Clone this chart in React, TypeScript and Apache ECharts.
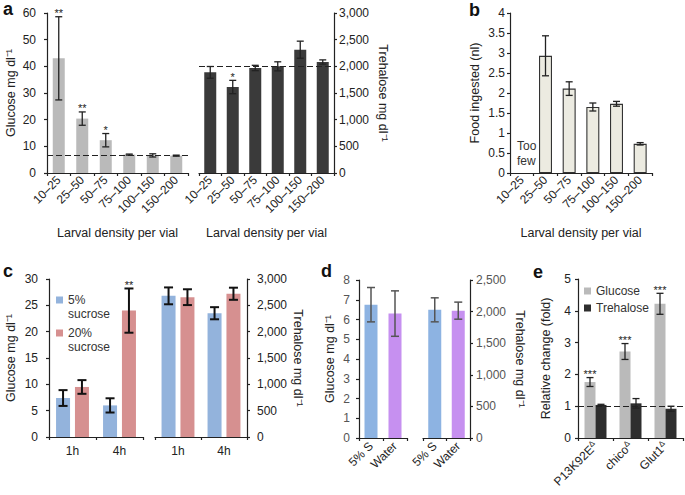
import React, { useEffect, useRef } from 'react';
import * as echarts from 'echarts';

// ---------- data ----------
const densityCats = ['10–25', '25–50', '50–75', '75–100', '100–150', '150–200'];
const glucoseA = [43.0, 20.4, 12.3, 6.9, 6.6, 6.5];
const glucoseAErr = [15.6, 2.5, 2.5, 0.2, 0.6, 0.2];
const glucoseASig = ['**', '**', '*', '', '', ''];
const glucoseARef = 6.6;
const trehaloseA = [1887, 1612, 1969, 2000, 2312, 2081];
const trehaloseAErr = [110, 125, 50, 85, 160, 40];
const trehaloseASig = ['', '*', '', '', '', ''];
const trehaloseARef = 2000;
const foodB: (number | null)[] = [null, 2.93, 2.11, 1.65, 1.73, 0.73];
const foodBErr: (number | null)[] = [null, 0.5, 0.17, 0.1, 0.06, 0.03];

const timeCats = ['1h', '4h'];
const sucroseNames = ['5% sucrose', '20% sucrose'];
const glucoseC5 = [7.4, 6.0];
const glucoseC5Err = [1.5, 1.35];
const glucoseC20 = [9.5, 24.0];
const glucoseC20Err = [1.3, 4.2];
const glucoseC20Sig = ['', '**'];
const trehaloseC5 = [2680, 2350];
const trehaloseC5Err = [160, 115];
const trehaloseC20 = [2655, 2720];
const trehaloseC20Err = [150, 115];

const dietCats = ['5% S', 'Water'];
const glucoseD = [6.75, 6.3];
const glucoseDErr = [0.87, 1.15];
const trehaloseD = [2028, 2015];
const trehaloseDErr = [190, 135];

const mutantCats = ['P13K92E', 'chico', 'Glut1'];
const sugarNames = ['Glucose', 'Trehalose'];
const glucoseE = [1.76, 2.72, 4.22];
const glucoseEErr = [0.14, 0.25, 0.33];
const glucoseESig = ['***', '***', '***'];
const trehaloseE = [1.04, 1.09, 0.92];
const trehaloseEErr = [0.02, 0.15, 0.08];
const eRef = 1;

// ---------- styles ----------
const FONT = '"Liberation Sans", Arial, Helvetica, sans-serif';
const INK = '#222';
const GREY_L = '#bababa';
const GREY_D = '#3a3a3a';
const BEIGE = '#ecebe1';
const BLUE_C = '#93b3dc';
const RED_C = '#d69090';
const BLUE_D = '#8db3e2';
const PURPLE_D = '#c690f0';
const dColors = [BLUE_D, PURPLE_D];

const thousands = (v: number) => v.toLocaleString('en-US');

function xCat(grid: number, data: string[], extra: any = {}) {
  const { axisLabel, ...rest } = extra;
  return {
    type: 'category',
    gridIndex: grid,
    data,
    axisLine: { lineStyle: { color: INK, width: 1.2 } },
    axisTick: { show: true, length: 3, lineStyle: { color: INK, width: 1.2 } },
    axisLabel: {
      interval: 0,
      rotate: 45,
      fontSize: 12,
      color: INK,
      fontFamily: FONT,
      margin: 5,
      ...(axisLabel || {}),
    },
    splitLine: { show: false },
    nameLocation: 'middle',
    nameTextStyle: { fontSize: 12.5, color: INK, fontFamily: FONT },
    ...rest,
  };
}

function yVal(grid: number, max: number, interval: number, extra: any = {}) {
  const right = extra.position === 'right';
  return {
    type: 'value',
    gridIndex: grid,
    min: 0,
    max,
    interval,
    axisLine: { show: true, lineStyle: { color: INK, width: 1.2 } },
    axisTick: { show: true, length: 3, lineStyle: { color: INK, width: 1.2 } },
    axisLabel: {
      fontSize: 12,
      color: extra.labelColor || INK,
      fontFamily: FONT,
      margin: extra.margin ?? 10,
      formatter: extra.thousands ? thousands : undefined,
    },
    splitLine: { show: false },
    position: extra.position || 'left',
    name: extra.name,
    nameLocation: 'middle',
    nameGap: extra.nameGap,
    nameRotate: right ? -90 : 90,
    nameTextStyle: { fontSize: 12.5, color: INK, fontFamily: FONT },
  };
}

function errSeries(
  xi: number,
  means: (number | null)[],
  errs: (number | null)[],
  offset: number,
  cap: number,
  color: string,
  lw: number,
  sigs?: string[]
) {
  const data: any[] = [];
  means.forEach((m, i) => {
    if (m != null) data.push([i, m, errs[i] ?? 0]);
  });
  return {
    type: 'custom',
    xAxisIndex: xi,
    yAxisIndex: xi,
    data,
    encode: { x: 0, y: 1 },
    clip: false,
    silent: true,
    z: 5,
    renderItem: (params: any, api: any) => {
      const idx = Math.round(api.value(0));
      const m = api.value(1);
      const e = api.value(2);
      const top = api.coord([idx, m + e]);
      const bot = api.coord([idx, m - e]);
      const cx = top[0] + offset;
      const st = { stroke: color, lineWidth: lw };
      const children: any[] = [
        { type: 'line', shape: { x1: cx, y1: top[1], x2: cx, y2: bot[1] }, style: st },
        { type: 'line', shape: { x1: cx - cap / 2, y1: top[1], x2: cx + cap / 2, y2: top[1] }, style: st },
        { type: 'line', shape: { x1: cx - cap / 2, y1: bot[1], x2: cx + cap / 2, y2: bot[1] }, style: st },
      ];
      const s = sigs ? sigs[idx] : '';
      if (s) {
        children.push({
          type: 'text',
          x: cx,
          y: top[1] + 2,
          style: {
            text: s,
            fill: INK,
            fontSize: 11,
            fontFamily: FONT,
            align: 'center',
            verticalAlign: 'bottom',
          },
        });
      }
      return { type: 'group', children };
    },
  };
}

function refLine(value: number) {
  return {
    silent: true,
    symbol: ['none', 'none'],
    label: { show: false },
    lineStyle: { type: [6, 3], color: INK, width: 1.2 },
    data: [{ yAxis: value }],
  };
}

export default function App() {
  const ref = useRef<HTMLDivElement>(null);

  useEffect(() => {
    if (!ref.current) return;
    const chart = echarts.init(ref.current, undefined, { renderer: 'svg' });

    const grids = [
      { left: 47, top: 13, width: 141, height: 160 }, // a left
      { left: 199, top: 13, width: 135, height: 160 }, // a right
      { left: 510, top: 13, width: 142, height: 160 }, // b
      { left: 49, top: 279, width: 94, height: 158 }, // c left
      { left: 155, top: 279, width: 92, height: 158 }, // c right
      { left: 359, top: 280, width: 48, height: 158 }, // d left
      { left: 423, top: 280, width: 47, height: 158 }, // d right
      { left: 578, top: 279, width: 105, height: 159 }, // e
    ];

    const larval = 'Larval density per vial';

    const xAxes = [
      xCat(0, densityCats, { name: larval, nameGap: 53 }),
      xCat(1, densityCats, { name: larval, nameGap: 53 }),
      xCat(2, densityCats, { name: larval, nameGap: 53 }),
      xCat(3, timeCats, { axisLabel: { rotate: 0, margin: 8 } }),
      xCat(4, timeCats, { axisLabel: { rotate: 0, margin: 8 } }),
      xCat(5, dietCats, { axisLabel: { margin: 6 } }),
      xCat(6, dietCats, { axisLabel: { margin: 6 } }),
      xCat(7, mutantCats, {
        axisLabel: {
          margin: 6,
          formatter: (v: string) => `{m|${v}}{s|Δ}`,
          rich: {
            m: { fontSize: 12, color: INK, fontFamily: FONT },
            s: { fontSize: 8, color: INK, fontFamily: FONT, padding: [0, 0, 6, 0] },
          },
        },
      }),
    ];

    const yAxes = [
      yVal(0, 60, 10, { name: 'Glucose mg dl⁻¹', nameGap: 30, margin: 11 }),
      yVal(1, 3000, 500, { name: 'Trehalose mg dl⁻¹', nameGap: 42, position: 'right', thousands: true, margin: 5 }),
      yVal(2, 4, 0.5, { name: 'Food ingested (nl)', nameGap: 29, margin: 5 }),
      yVal(3, 30, 5, { name: 'Glucose mg dl⁻¹', nameGap: 32, margin: 11 }),
      yVal(4, 3000, 500, { name: 'Trehalose mg dl⁻¹', nameGap: 44, position: 'right', thousands: true, margin: 10 }),
      yVal(5, 8, 1, { name: 'Glucose mg dl⁻¹', nameGap: 23, margin: 9, labelColor: '#555' }),
      yVal(6, 2500, 500, { name: 'Trehalose mg dl⁻¹', nameGap: 43, position: 'right', thousands: true, margin: 6, labelColor: '#555' }),
      yVal(7, 5, 1, { name: 'Relative change (fold)', nameGap: 26, margin: 7 }),
    ];

    const series: any[] = [
      // a
      {
        type: 'bar', name: 'Glucose a', xAxisIndex: 0, yAxisIndex: 0, data: glucoseA,
        barWidth: 12, itemStyle: { color: GREY_L }, markLine: refLine(glucoseARef),
      },
      errSeries(0, glucoseA, glucoseAErr, 0, 7, INK, 1.3, glucoseASig),
      {
        type: 'bar', name: 'Trehalose a', xAxisIndex: 1, yAxisIndex: 1, data: trehaloseA,
        barWidth: 12, itemStyle: { color: GREY_D }, markLine: refLine(trehaloseARef),
      },
      errSeries(1, trehaloseA, trehaloseAErr, 0, 7, INK, 1.3, trehaloseASig),
      // b
      {
        type: 'bar', name: 'Food', xAxisIndex: 2, yAxisIndex: 2,
        data: foodB.map((v) => (v == null ? '-' : v)),
        barWidth: 13, itemStyle: { color: BEIGE, borderColor: '#333', borderWidth: 1.1 },
      },
      errSeries(2, foodB, foodBErr, 0, 7, INK, 1.3),
      // c
      {
        type: 'bar', name: sucroseNames[0], xAxisIndex: 3, yAxisIndex: 3, data: glucoseC5,
        barWidth: 14, barGap: '35%', itemStyle: { color: BLUE_C },
      },
      {
        type: 'bar', name: sucroseNames[1], xAxisIndex: 3, yAxisIndex: 3, data: glucoseC20,
        barWidth: 14, barGap: '35%', itemStyle: { color: RED_C },
      },
      errSeries(3, glucoseC5, glucoseC5Err, -9.45, 9, '#111', 2),
      errSeries(3, glucoseC20, glucoseC20Err, 9.45, 9, '#111', 2, glucoseC20Sig),
      {
        type: 'bar', name: sucroseNames[0], xAxisIndex: 4, yAxisIndex: 4, data: trehaloseC5,
        barWidth: 14, barGap: '35%', itemStyle: { color: BLUE_C },
      },
      {
        type: 'bar', name: sucroseNames[1], xAxisIndex: 4, yAxisIndex: 4, data: trehaloseC20,
        barWidth: 14, barGap: '35%', itemStyle: { color: RED_C },
      },
      errSeries(4, trehaloseC5, trehaloseC5Err, -9.45, 9, '#111', 2),
      errSeries(4, trehaloseC20, trehaloseC20Err, 9.45, 9, '#111', 2),
      // d
      {
        type: 'bar', name: 'Glucose d', xAxisIndex: 5, yAxisIndex: 5,
        data: glucoseD.map((v, i) => ({ value: v, itemStyle: { color: dColors[i] } })),
        barWidth: 13,
      },
      errSeries(5, glucoseD, glucoseDErr, 0, 8, '#555', 1.5),
      {
        type: 'bar', name: 'Trehalose d', xAxisIndex: 6, yAxisIndex: 6,
        data: trehaloseD.map((v, i) => ({ value: v, itemStyle: { color: dColors[i] } })),
        barWidth: 13,
      },
      errSeries(6, trehaloseD, trehaloseDErr, 0, 8, '#555', 1.5),
      // e
      {
        type: 'bar', name: sugarNames[0], xAxisIndex: 7, yAxisIndex: 7, data: glucoseE,
        barWidth: 11, barGap: '0%', itemStyle: { color: GREY_L },
      },
      {
        type: 'bar', name: sugarNames[1], xAxisIndex: 7, yAxisIndex: 7, data: trehaloseE,
        barWidth: 11, barGap: '0%', itemStyle: { color: '#2e2e2e' }, markLine: refLine(eRef),
      },
      errSeries(7, glucoseE, glucoseEErr, -5.5, 7, INK, 1.3, glucoseESig),
      errSeries(7, trehaloseE, trehaloseEErr, 5.5, 7, INK, 1.3),
    ];

    const letter = (t: string, x: number, y: number) => ({
      type: 'text',
      x,
      y,
      silent: true,
      style: { text: t, fill: '#111', font: `bold 18px ${FONT}`, verticalAlign: 'middle' },
    });

    chart.setOption({
      animation: false,
      backgroundColor: '#fff',
      textStyle: { fontFamily: FONT },
      grid: grids,
      xAxis: xAxes,
      yAxis: yAxes,
      legend: [
        {
          data: sucroseNames,
          orient: 'vertical',
          left: 56,
          top: 279,
          padding: 0,
          itemWidth: 7,
          itemHeight: 7,
          itemGap: -9,
          icon: 'rect',
          selectedMode: false,
          formatter: (n: string) => '\n' + n.replace(' ', '\n'),
          textStyle: { fontSize: 12, color: '#333', fontFamily: FONT, lineHeight: 14 },
        },
        {
          data: sugarNames,
          orient: 'vertical',
          left: 584,
          top: 284,
          padding: 0,
          itemWidth: 7,
          itemHeight: 7,
          itemGap: 3,
          icon: 'rect',
          selectedMode: false,
          textStyle: { fontSize: 12, color: '#333', fontFamily: FONT, lineHeight: 14 },
        },
      ],
      graphic: [
        letter('a', 3, 9),
        letter('b', 469, 10),
        letter('c', 3, 271),
        letter('d', 321, 271),
        letter('e', 533, 272),
        {
          type: 'text',
          x: 517,
          y: 138,
          silent: true,
          style: { text: 'Too\nfew', fill: '#333', font: `12px ${FONT}`, lineHeight: 15 },
        },
      ],
      series,
    });

    return () => chart.dispose();
  }, []);

  return (
    <div
      ref={ref}
      style={{ position: 'fixed', left: 0, top: 0, width: 685, height: 495, background: '#fff' }}
    />
  );
}
